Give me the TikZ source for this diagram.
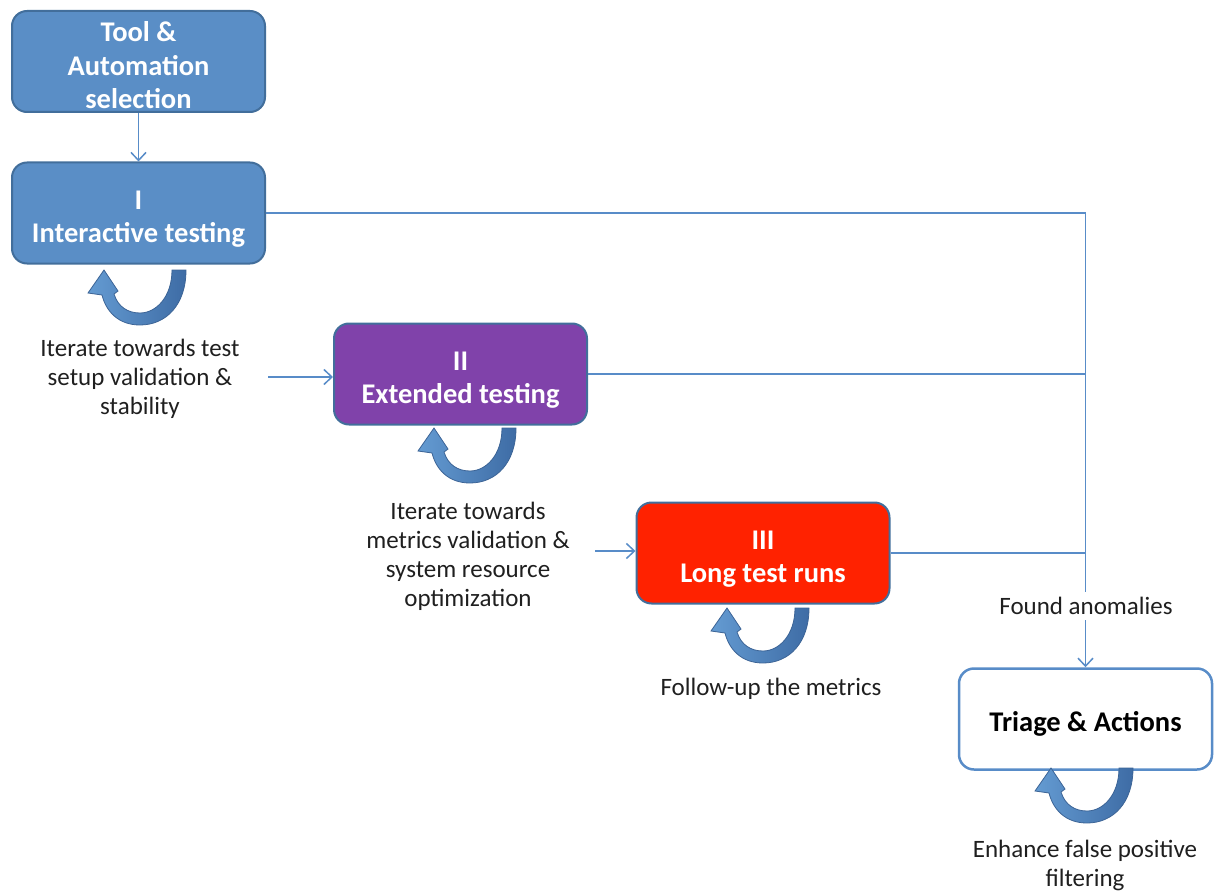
\documentclass[tikz,border=0pt]{standalone}
\usepackage{fontspec}
\setmainfont{Carlito}
\usetikzlibrary{arrows.meta,calc}
\definecolor{boxblue}{RGB}{90,142,198}
\definecolor{boxedge}{RGB}{66,110,155}
\definecolor{boxpurple}{RGB}{128,66,170}
\definecolor{boxred}{RGB}{255,34,0}
\definecolor{linecol}{RGB}{88,140,200}
\definecolor{uleft}{RGB}{100,155,210}
\definecolor{uright}{RGB}{62,108,165}
\definecolor{uedge}{RGB}{60,100,150}
\begin{document}
\begin{tikzpicture}[x=1pt,y=-1pt,
  box/.style={draw=boxedge, line width=2pt, rounded corners=15pt,
    minimum width=253pt, minimum height=101pt, inner sep=0pt},
  boxtxt/.style={align=center, text=white, yshift=-6pt,
    font=\fontsize{28.5}{33.5}\selectfont\bfseries},
  conn/.style={draw=linecol, line width=1.5pt, -{Straight Barb[length=8pt,width=15pt]}},
  wire/.style={draw=linecol, line width=1.5pt},
  lbl/.style={align=center, font=\fontsize{25}{29}\selectfont, text=black!88},
  uturn/.pic={
    \path[left color=uleft, right color=uright, draw=uedge, line width=0.8pt]
      (46,-55) .. controls (46,-20) and (26,0) .. (0,0)
      .. controls (-22,0) and (-34,-14) .. (-38,-30)
      -- (-52,-32) -- (-36,-55) -- (-22,-34) -- (-26,-31)
      .. controls (-22,-18) and (-12,-12) .. (0,-12)
      .. controls (16,-12) and (32,-28) .. (32,-55) -- cycle;
  }
]
\useasboundingbox (0,0) rectangle (1214,893);

% boxes
\node[box, fill=boxblue, label={[boxtxt, yshift=2pt]center:{Tool \&\\Automation\\selection}}] (b1) at (138.5,61.5) {};
\node[box, fill=boxblue, label={[boxtxt]center:{I\\Interactive testing}}] (b2) at (138.5,213) {};
\node[box, fill=boxpurple, label={[boxtxt]center:{II\\Extended testing}}] (b3) at (460.5,374) {};
\node[box, fill=boxred, label={[boxtxt]center:{III\\Long test runs}}] (b4) at (763,553) {};
\node[box, fill=white, draw=linecol, line width=2.5pt, label={[boxtxt, text=black, yshift=1pt]center:{Triage \& Actions}}] (b5) at (1085.5,719) {};

% loop arrows
\pic at (140,325) {uturn};
\pic at (470,483) {uturn};
\pic at (763,663) {uturn};
\pic at (1087,823) {uturn};

% labels
\node[lbl] (l1) at (140,379) {Iterate towards test\\setup validation \&\\stability};
\node[lbl] (l2) at (468,556) {Iterate towards\\metrics validation \&\\system resource\\optimization};
\node[lbl] (l3) at (771,689) {Follow-up the metrics};
\node[lbl] (l4) at (1085,865) {Enhance false positive\\filtering};

% connectors
\draw[conn] (b1) -- (b2);
\coordinate (a1) at (268,377);
\draw[conn] (a1) -- (a1 -| b3.west);
\coordinate (a2) at (595,551);
\draw[conn] (a2) -- (a2 -| b4.west);
\draw[conn] (b2.east) -| (b5.north);
\draw[wire] (b3.east) -- (b3.east -| b5.north);
\draw[wire] (b4.east) -- (b4.east -| b5.north);
\node[lbl, fill=white, inner sep=5pt] (l5) at (1086,606) {Found anomalies};
\end{tikzpicture}
\end{document}
